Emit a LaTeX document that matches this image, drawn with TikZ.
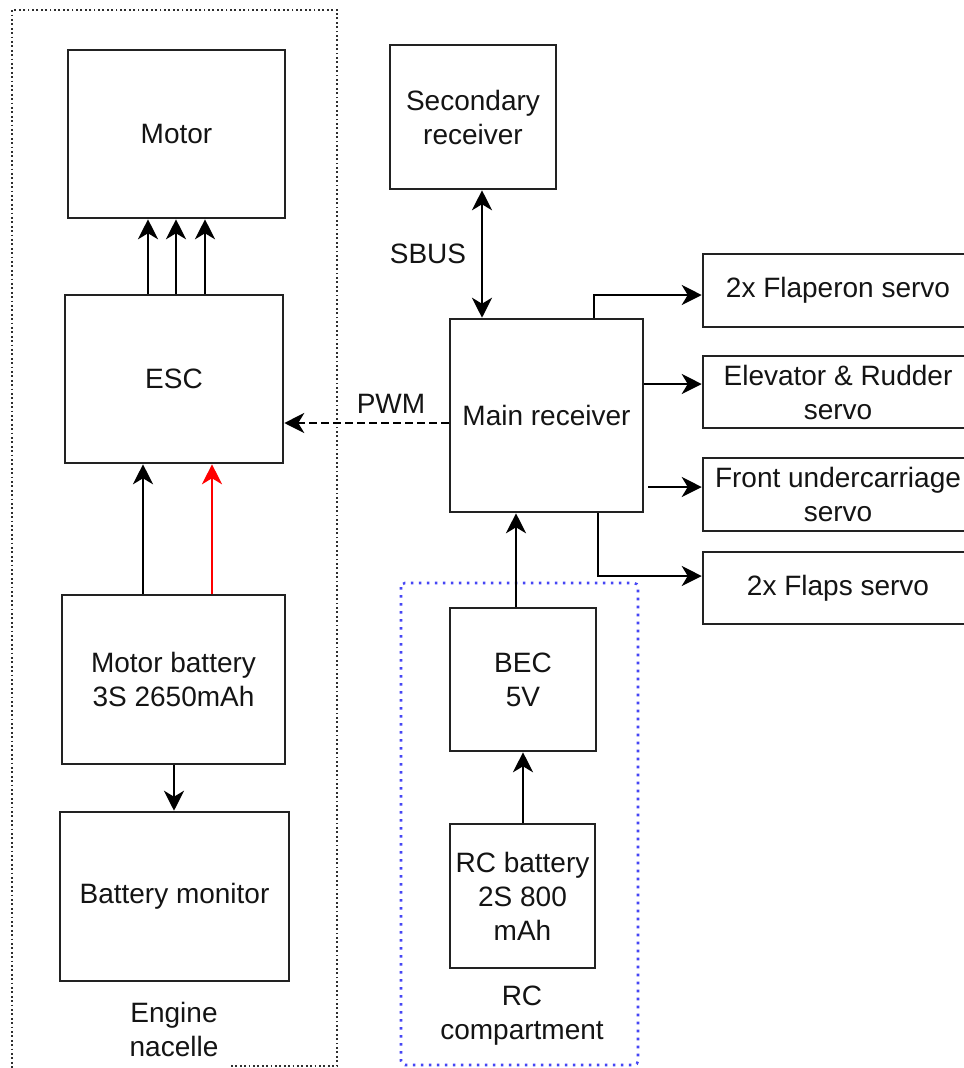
\documentclass[tikz,border=0pt]{standalone}
\usepackage{fontspec}
\setmainfont{Liberation Sans}
\usetikzlibrary{arrows.meta}
\definecolor{edge}{HTML}{222222}
\definecolor{framegray}{HTML}{2E2E2E}
\definecolor{rcblue}{RGB}{70,70,245}
\begin{document}
\begin{tikzpicture}[x=0.75pt,y=-0.75pt,
  sz/.style 2 args={minimum width=#1*0.75pt,minimum height=#2*0.75pt},
  box/.style={draw=edge,line width=1.9pt,fill=white,inner sep=1pt,align=center,
    font=\fontsize{21}{25.5}\selectfont,text=black!92},
  lbl/.style={align=center,font=\fontsize{21}{25.5}\selectfont,text=black!92,inner sep=0pt},
  tip/.style={-{Stealth[length=15pt,width=15pt,inset=4.5pt]}},
  arr/.style={draw=black,line width=1.5pt,tip},
  redarr/.style={draw=red,line width=1.1pt,tip},
  dasharr/.style={draw=black,line width=1.5pt,dash pattern=on 5.5pt off 3.5pt,tip},
  nacelleframe/.style={draw=framegray,line width=1.3pt,dash pattern=on 1.3pt off 2pt},
  rcframe/.style={draw=rcblue,line width=1.9pt,dash pattern=on 1.9pt off 4.1pt,rounded corners=3pt}]
\useasboundingbox (0,0) rectangle (964,1068);
\clip (0,0) rectangle (964,1068);
\fill[white] (0,0) rectangle (964,1068);

% group frames
\draw[nacelleframe] (231,1066) -- (337,1066) -- (337,10) -- (12,10) -- (12,1068);
\draw[rcframe] (401,583) rectangle (638,1065);

% nodes
\node[box,sz={217}{168}] (motor) at (176.5,134) {Motor};
\node[box,sz={218}{168}] (esc) at (174,379) {ESC};
\node[box,sz={223}{169}] (mbat) at (173.5,679.5) {Motor battery\\3S 2650mAh};
\node[box,sz={229}{169}] (bmon) at (174.5,896.5) {Battery monitor};
\node[box,sz={166}{144}] (sec) at (473,117) {Secondary\\receiver};
\node[box,sz={193}{193}] (main) at (546.5,415.5) {Main receiver};
\node[box,sz={146}{143}] (bec) at (523,679.5) {BEC\\5V};
\node[box,sz={145}{144}] (rcbat) at (522.5,896) {RC battery\\2S 800\\mAh};
\node[box,sz={270}{73}] (flaperon) at (838,290.5) {2x Flaperon servo};
\node[box,sz={270}{72}] (elev) at (838,392) {Elevator \& Rudder\\servo};
\node[box,sz={270}{73}] (front) at (838,494.5) {Front undercarriage\\servo};
\node[box,sz={270}{72}] (flaps) at (838,588) {2x Flaps servo};

% labels
\node[lbl] (sbus) at (428,254) {SBUS};
\node[lbl] (pwm) at (391,404) {PWM};
\node[lbl] (nacelle) at (174,1029) {Engine\\nacelle};
\node[lbl] (rccomp) at (522,1016) {RC\\compartment};

% connectors
\draw[arr] (148,0 |- esc.north) -- (148,0 |- motor.south);
\draw[arr] (176,0 |- esc.north) -- (176,0 |- motor.south);
\draw[arr] (205,0 |- esc.north) -- (205,0 |- motor.south);
\draw[arr] (143,0 |- mbat.north) -- (143,0 |- esc.south);
\draw[redarr] (212,0 |- mbat.north) -- (212,0 |- esc.south);
\draw[arr] (174,0 |- mbat.south) -- (174,0 |- bmon.north);
\draw[dasharr] (main.west |- 0,423) -- (esc.east |- 0,423);
\draw[draw=black,line width=1.5pt,{Stealth[length=15pt,width=15pt,inset=4.5pt]}-{Stealth[length=15pt,width=15pt,inset=4.5pt]}]
  (482,0 |- sec.south) -- (482,0 |- main.north);
\draw[arr] (594,0 |- main.north) -- (594,295) -- (flaperon.west |- 0,295);
\draw[arr] (main.east |- 0,384) -- (elev.west |- 0,384);
\coordinate (frontstart) at (648,487);
\draw[arr] (frontstart) -- (front.west |- frontstart);
\draw[arr] (598,0 |- main.south) -- (598,576) -- (flaps.west |- 0,576);
\draw[arr] (516,0 |- bec.north) -- (516,0 |- main.south);
\draw[arr] (523,0 |- rcbat.north) -- (523,0 |- bec.south);
\end{tikzpicture}
\end{document}
